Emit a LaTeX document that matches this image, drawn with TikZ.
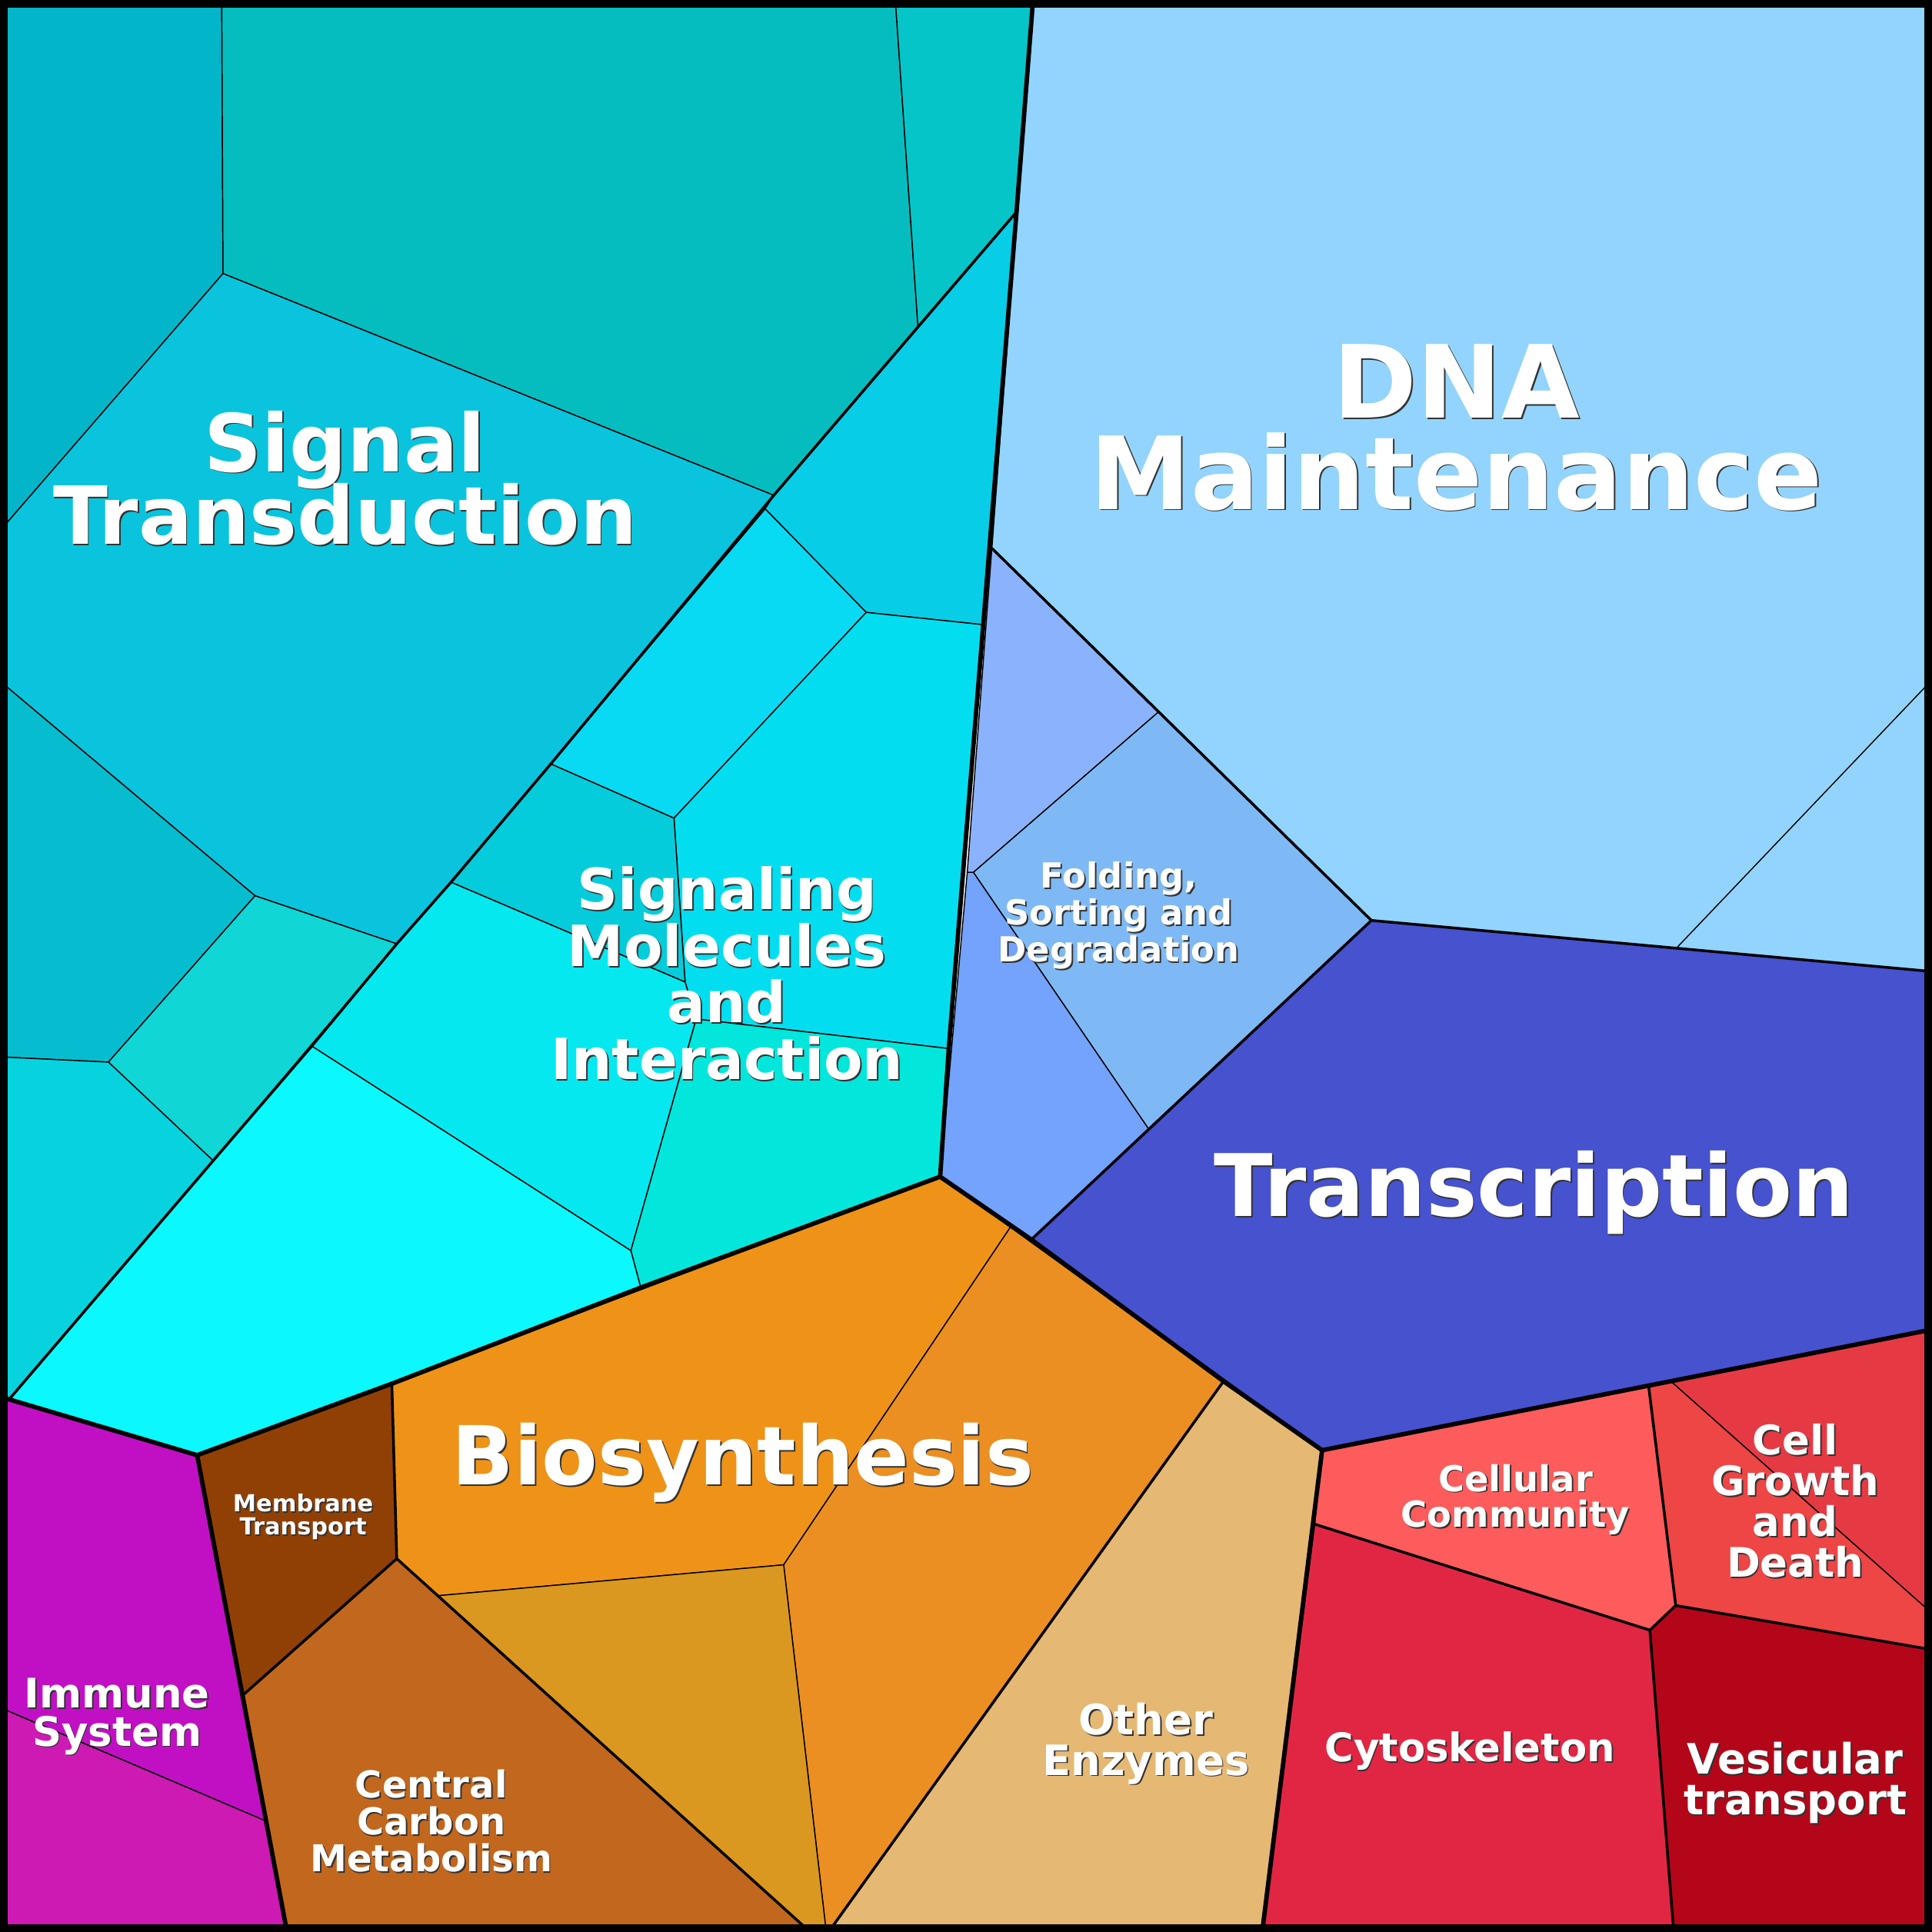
\documentclass[tikz,border=0pt]{standalone}
\usepackage{fontspec}
\setmainfont{DejaVu Sans}
\usetikzlibrary{calc}
\begin{document}
\begin{tikzpicture}[x=1pt,y=-1pt,
 thin/.style={draw=black,line width=0.9pt},
 mid/.style={draw=black,line width=2.2pt,line join=round},
 thick/.style={draw=black,line width=3.6pt,line join=round},
 cell/.style={draw=black,line width=0.9pt}]
\newcommand{\lbl}[4]{%
 \node[text=black!80,align=center,font=\bfseries\fontsize{#3}{#3}\selectfont] (#1s) at ($(#2)+(1.1,1.1)$) {#4};
 \node[text=white,align=center,font=\bfseries\fontsize{#3}{#3}\selectfont] (#1) at (#2) {#4};}
\useasboundingbox (0,0) rectangle (1568,1568);
% cyan group
\fill[cell,fill={rgb,255:red,2;green,181;blue,200}] (5,5)--(180,5)--(181,222)--(5,425)--cycle;
\fill[cell,fill={rgb,255:red,5;green,189;blue,191}] (180,5)--(727,5)--(745,265)--(628,402)--(181,222)--cycle;
\fill[cell,fill={rgb,255:red,6;green,197;blue,201}] (727,5)--(838,5)--(825,172)--(745,265)--cycle;
\fill[cell,fill={rgb,255:red,10;green,196;blue,221}] (5,425)--(181,222)--(628,402)--(447,620)--(366,716)--(322,766)--(207,727)--(5,557)--cycle;
\fill[cell,fill={rgb,255:red,6;green,189;blue,207}] (5,557)--(207,727)--(88,862)--(5,858)--cycle;
\fill[cell,fill={rgb,255:red,16;green,214;blue,214}] (207,727)--(322,766)--(173,942)--(88,862)--cycle;
\fill[cell,fill={rgb,255:red,7;green,211;blue,223}] (5,858)--(88,862)--(173,942)--(8,1135)--(5,1135)--cycle;
\fill[cell,fill={rgb,255:red,8;green,205;blue,230}] (628,402)--(825,172)--(798,507)--(703,497)--(621,413)--cycle;
\fill[cell,fill={rgb,255:red,8;green,218;blue,244}] (621,413)--(703,497)--(547,664)--(447,620)--cycle;
\fill[cell,fill={rgb,255:red,2;green,222;blue,240}] (703,497)--(798,507)--(770,851)--(565,827)--(556,797)--(547,664)--cycle;
\fill[cell,fill={rgb,255:red,5;green,204;blue,218}] (447,620)--(547,664)--(556,797)--(366,716)--cycle;
\fill[cell,fill={rgb,255:red,6;green,232;blue,240}] (366,716)--(556,797)--(565,827)--(512,1015)--(253,849)--(322,766)--cycle;
\fill[cell,fill={rgb,255:red,2;green,230;blue,220}] (565,827)--(770,851)--(763,955)--(520,1045)--(512,1015)--cycle;
\fill[cell,fill={rgb,255:red,10;green,248;blue,254}] (253,849)--(512,1015)--(520,1045)--(318,1123)--(160,1181)--(8,1135)--(173,942)--cycle;
\draw[mid] (825,172)--(628,402)--(447,620)--(366,716)--(322,766)--(253,849)--(173,942)--(8,1135);
% DNA group
\fill[cell,fill={rgb,255:red,146;green,212;blue,253}] (838,5)--(1563,5)--(1563,788)--(1113,747)--(805,445)--cycle;
\draw[thin] (1563,557)--(1361,769);
\fill[cell,fill={rgb,255:red,139;green,179;blue,253}] (805,445)--(940,578)--(790,708)--(785,708)--cycle;
\fill[cell,fill={rgb,255:red,126;green,185;blue,245}] (940,578)--(1113,747)--(932,916)--(790,708)--cycle;
\fill[cell,fill={rgb,255:red,115;green,163;blue,253}] (785,708)--(790,708)--(932,916)--(837,1006)--(763,955)--cycle;
\fill[cell,fill={rgb,255:red,70;green,82;blue,206}] (1113,747)--(1563,788)--(1563,1080)--(1073,1177)--(837,1006)--cycle;
\draw[mid] (805,445)--(1113,747)--(1563,788);
\draw[mid] (1113,747)--(837,1006);
% Biosynthesis
\fill[cell,fill={rgb,255:red,145;green,64;blue,5}] (160,1181)--(318,1123)--(322,1265)--(198,1375)--cycle;
\fill[cell,fill={rgb,255:red,238;green,147;blue,24}] (318,1123)--(763,955)--(820,996)--(636,1270)--(356,1295)--(322,1265)--cycle;
\fill[cell,fill={rgb,255:red,235;green,143;blue,34}] (820,996)--(993,1121)--(676,1563)--(670,1563)--(636,1270)--cycle;
\fill[cell,fill={rgb,255:red,218;green,152;blue,32}] (356,1295)--(636,1270)--(670,1563)--(652,1563)--cycle;
\fill[cell,fill={rgb,255:red,194;green,103;blue,30}] (198,1375)--(322,1265)--(652,1563)--(232,1563)--cycle;
\fill[cell,fill={rgb,255:red,229;green,184;blue,115}] (993,1121)--(1073,1177)--(1025,1563)--(676,1563)--cycle;
\draw[mid] (318,1123)--(322,1265)--(652,1563);
\draw[mid] (198,1375)--(322,1265);
\draw[mid] (993,1121)--(676,1563);
% Immune
\fill[cell,fill={rgb,255:red,193;green,16;blue,196}] (5,1135)--(160,1181)--(216,1478)--(5,1388)--cycle;
\fill[cell,fill={rgb,255:red,204;green,26;blue,179}] (5,1388)--(216,1478)--(232,1563)--(5,1563)--cycle;
% right bottom
\fill[cell,fill={rgb,255:red,254;green,92;blue,92}] (1073,1177)--(1338,1125)--(1360,1303)--(1339,1323)--(1067,1237)--cycle;
\fill[cell,fill={rgb,255:red,229;green,58;blue,68}] (1338,1125)--(1563,1080)--(1563,1305)--(1356,1121)--cycle;
\fill[cell,fill={rgb,255:red,238;green,69;blue,69}] (1356,1121)--(1563,1305)--(1563,1338)--(1360,1303)--(1338,1125)--cycle;
\fill[cell,fill={rgb,255:red,225;green,38;blue,68}] (1067,1237)--(1339,1323)--(1358,1563)--(1025,1563)--cycle;
\fill[cell,fill={rgb,255:red,180;green,6;blue,25}] (1339,1323)--(1360,1303)--(1563,1338)--(1563,1563)--(1358,1563)--cycle;
\draw[mid] (1067,1237)--(1339,1323)--(1358,1563);
\draw[mid] (1338,1125)--(1360,1303)--(1563,1338);
\draw[mid] (1339,1323)--(1360,1303);
% top-level boundaries
\draw[thick] (838,5)--(825,172)--(798,507)--(770,851)--(763,955)--(520,1045)--(318,1123)--(160,1181)--(5,1135);
\draw[thick] (160,1181)--(232,1563);
\draw[thick] (763,955)--(837,1006)--(993,1121)--(1073,1177)--(1563,1080);
\draw[thick] (1073,1177)--(1025,1563);
\draw[line width=6pt] (3,3) rectangle (1565,1565);
% labels
\lbl{st}{280,388}{65}{Signal\\[-6pt]Transduction}
\lbl{dna}{1182,347}{82}{DNA\\[-8pt]Maintenance}
\lbl{sm}{590,790}{46}{Signaling\\[0pt]Molecules\\[0pt]and\\[0pt]Interaction}
\lbl{fo}{908,743}{28}{Folding,\\[2pt]Sorting and\\[2pt]Degradation}
\lbl{tr}{1245,968}{70}{Transcription}
\lbl{bio}{603,1187}{66}{Biosynthesis}
\lbl{mt}{246,1231}{19}{Membrane\\[0pt]Transport}
\lbl{im}{95,1393}{33}{Immune\\[-2pt]System}
\lbl{cc}{350,1478}{30}{Central\\[0pt]Carbon\\[0pt]Metabolism}
\lbl{oe}{930,1415}{34}{Other\\[-1pt]Enzymes}
\lbl{ccm}{1230,1217}{29}{Cellular\\[0pt]Community}
\lbl{cg}{1457,1218}{33}{Cell\\[0pt]Growth\\[0pt]and\\[0pt]Death}
\lbl{cy}{1193,1421}{32}{Cytoskeleton}
\lbl{ve}{1457,1447}{34}{Vesicular\\[-1pt]transport}
\end{tikzpicture}
\end{document}
